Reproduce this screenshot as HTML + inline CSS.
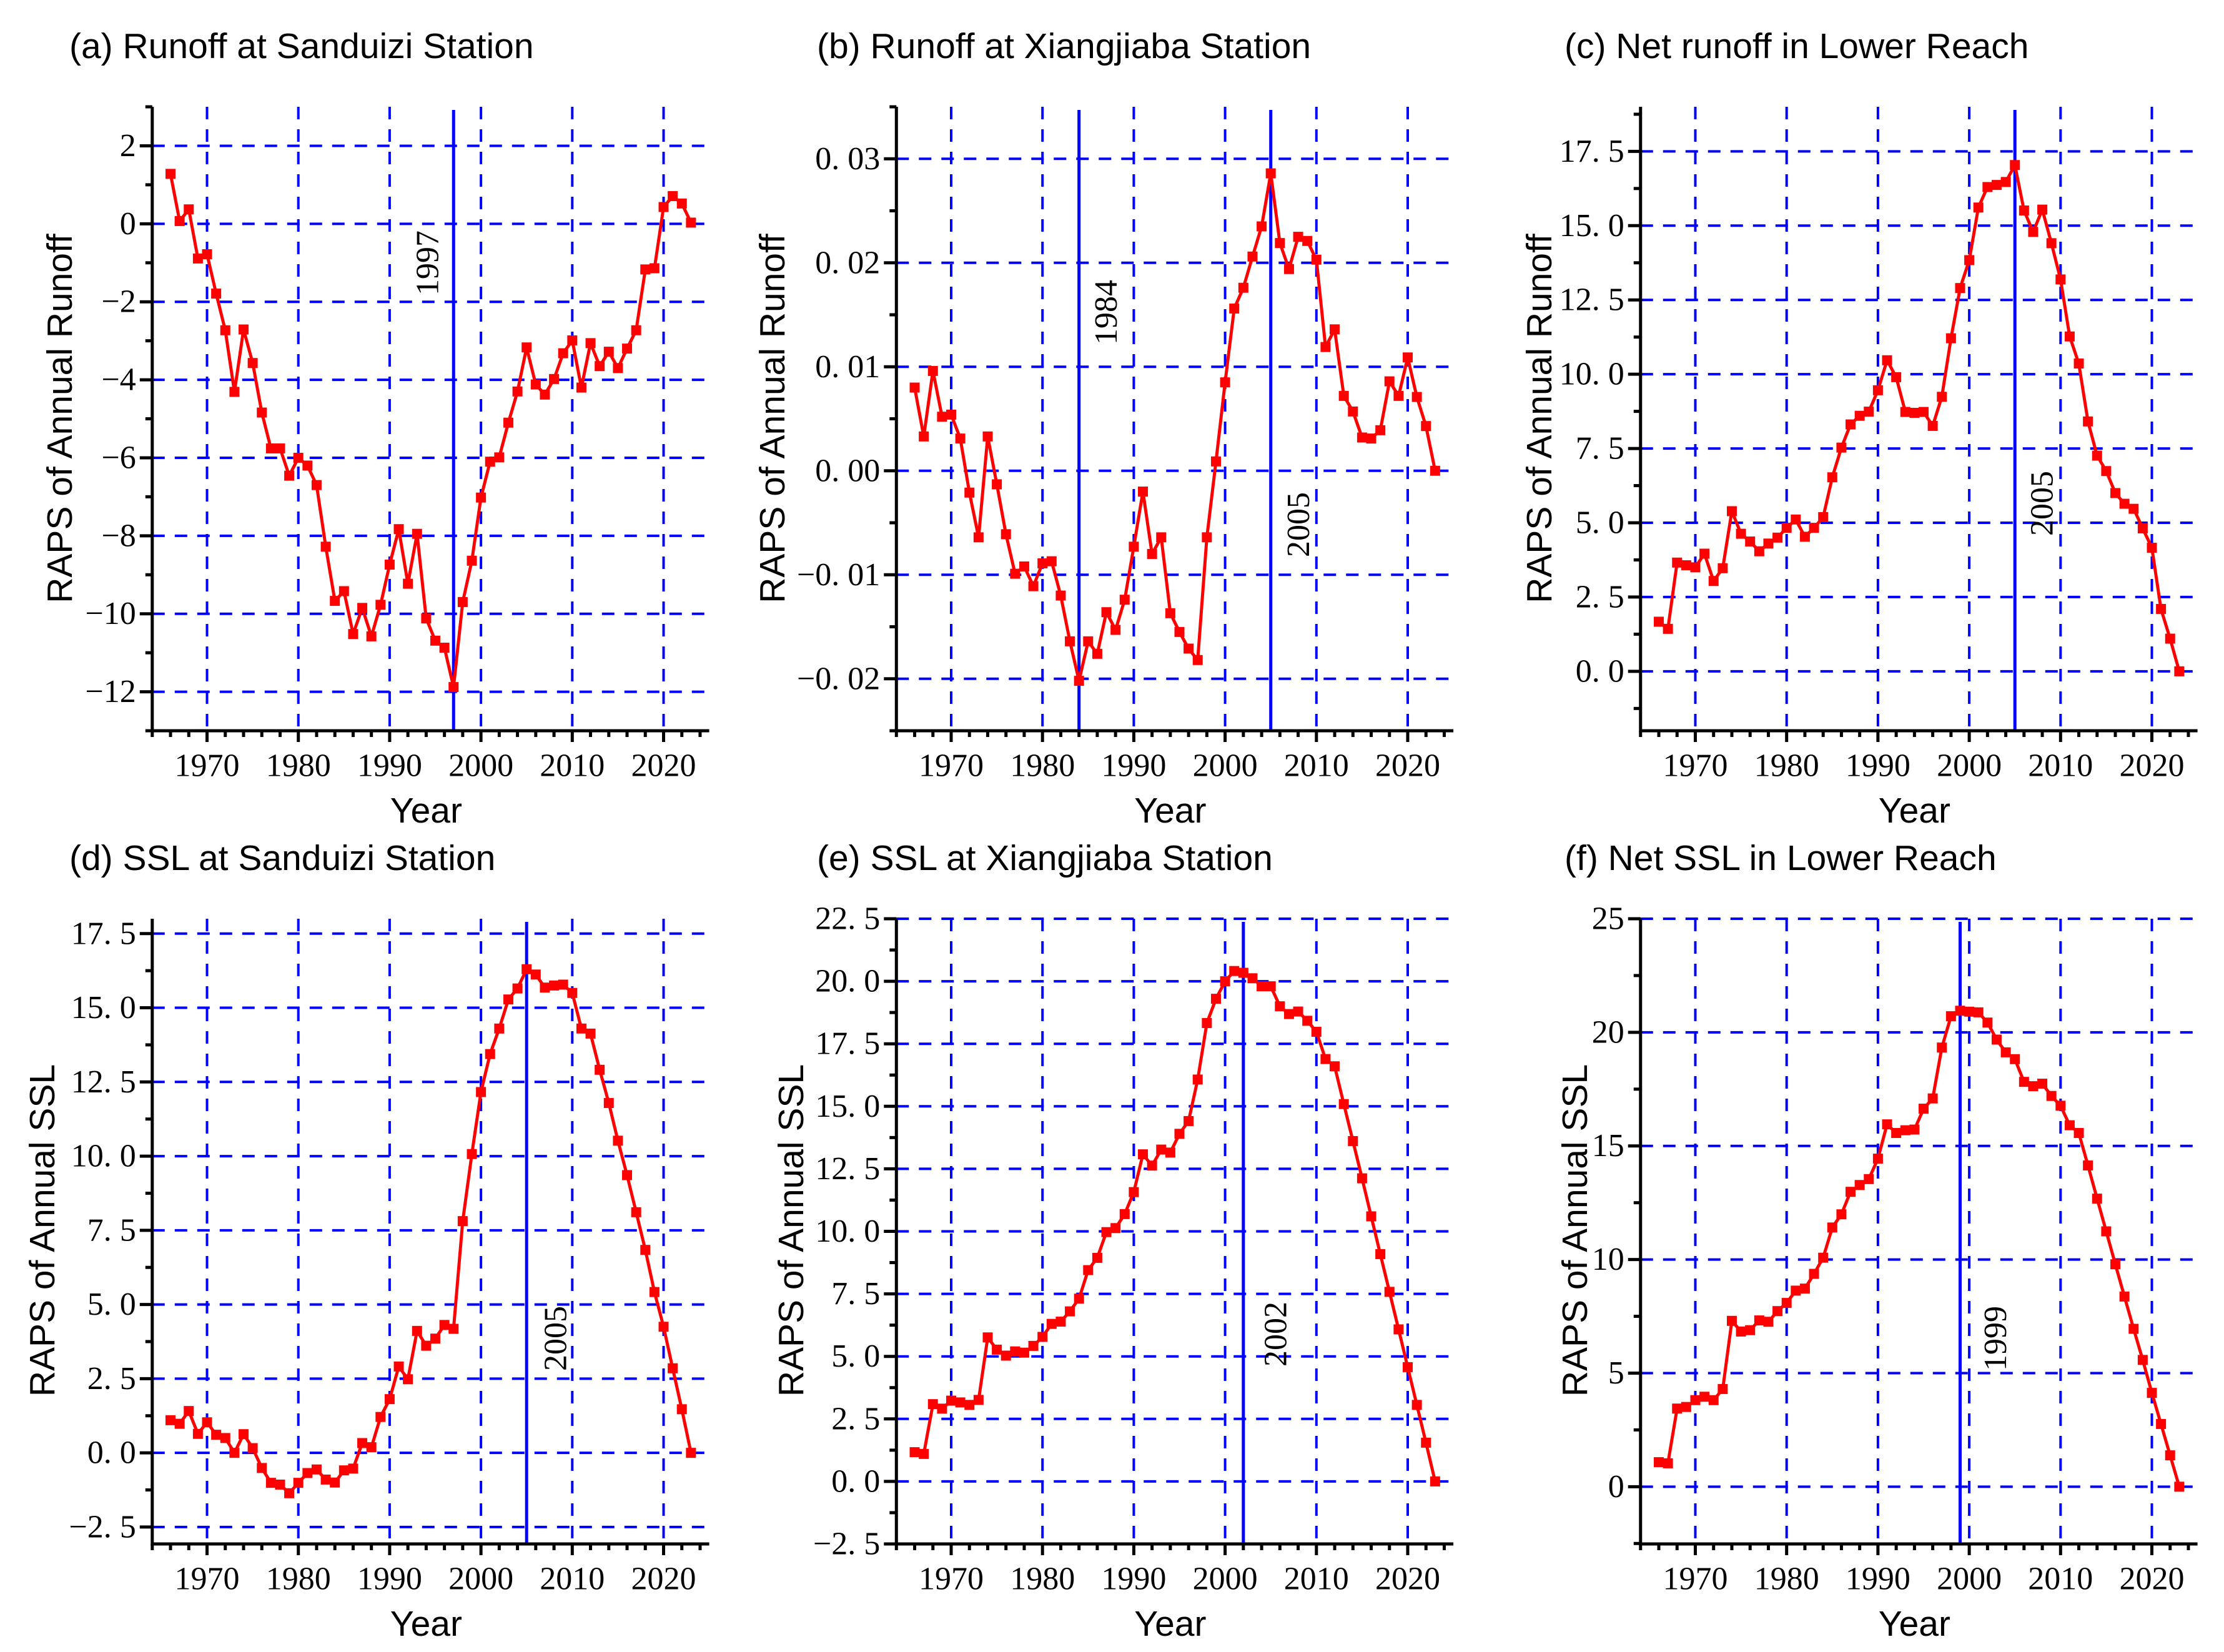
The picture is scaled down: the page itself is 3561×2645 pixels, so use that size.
<!DOCTYPE html>
<html><head><meta charset="utf-8">
<style>
html,body{margin:0;padding:0;background:#fff;}
svg{display:block;}
.title,.axlab{font-family:"Liberation Sans",Arial,sans-serif;font-size:57px;fill:#000;}
.tick{font-family:"Liberation Serif","Times New Roman",serif;font-size:52px;fill:#000;}
.brk{font-family:"Liberation Serif","Times New Roman",serif;font-size:52px;fill:#000;}
</style></head>
<body>
<svg id="chart" width="3561" height="2645" viewBox="0 0 3561 2645" xmlns="http://www.w3.org/2000/svg">
<rect x="0" y="0" width="3561" height="2645" fill="#fff"/>
</svg>
<script>
const years = [1966,1967,1968,1969,1970,1971,1972,1973,1974,1975,1976,1977,1978,1979,1980,1981,1982,1983,1984,1985,1986,1987,1988,1989,1990,1991,1992,1993,1994,1995,1996,1997,1998,1999,2000,2001,2002,2003,2004,2005,2006,2007,2008,2009,2010,2011,2012,2013,2014,2015,2016,2017,2018,2019,2020,2021,2022,2023];
const xTickYears = [1970,1980,1990,2000,2010,2020];
const runoffSanduizi = [1.28,0.07,0.37,-0.89,-0.78,-1.79,-2.73,-4.31,-2.71,-3.57,-4.84,-5.76,-5.76,-6.46,-6.0,-6.2,-6.70,-8.28,-9.67,-9.42,-10.52,-9.85,-10.58,-9.77,-8.74,-7.83,-9.23,-7.95,-10.12,-10.69,-10.87,-11.88,-9.70,-8.64,-7.02,-6.10,-5.99,-5.10,-4.30,-3.17,-4.12,-4.38,-3.98,-3.32,-2.99,-4.20,-3.06,-3.65,-3.28,-3.70,-3.20,-2.73,-1.17,-1.14,0.43,0.71,0.52,0.03];
const runoffXiangjiaba = [0.0080,0.0033,0.0096,0.0052,0.0054,0.0031,-0.0021,-0.0064,0.0033,-0.0013,-0.0061,-0.0099,-0.0092,-0.0111,-0.0089,-0.0087,-0.0120,-0.0164,-0.0202,-0.0164,-0.0176,-0.0136,-0.0153,-0.0124,-0.0073,-0.0020,-0.0080,-0.0064,-0.0137,-0.0155,-0.0171,-0.0182,-0.0064,0.0009,0.0085,0.0156,0.0176,0.0206,0.0235,0.0286,0.0219,0.0194,0.0225,0.0221,0.0203,0.0119,0.0136,0.0072,0.0057,0.0032,0.0031,0.0039,0.0086,0.0072,0.0109,0.0071,0.0043,0.0];
const runoffNet = [1.67,1.43,3.66,3.57,3.50,3.96,3.04,3.47,5.39,4.63,4.37,4.04,4.30,4.50,4.83,5.11,4.53,4.83,5.19,6.53,7.53,8.31,8.60,8.74,9.46,10.47,9.90,8.73,8.70,8.73,8.26,9.24,11.21,12.90,13.84,15.61,16.30,16.37,16.47,17.04,15.51,14.79,15.54,14.41,13.19,11.27,10.36,8.41,7.26,6.74,6.0,5.64,5.47,4.81,4.16,2.10,1.10,0];
const sslSanduizi = [1.10,0.98,1.41,0.64,1.03,0.61,0.50,0.0,0.63,0.16,-0.51,-1.01,-1.07,-1.36,-1.01,-0.68,-0.56,-0.90,-1.0,-0.59,-0.53,0.33,0.19,1.21,1.81,2.91,2.48,4.11,3.61,3.85,4.31,4.18,7.81,10.07,12.16,13.44,14.30,15.28,15.65,16.30,16.12,15.68,15.75,15.78,15.50,14.30,14.13,12.91,11.79,10.52,9.36,8.11,6.84,5.42,4.25,2.85,1.47,0];
const sslXiangjiaba = [1.17,1.10,3.09,2.91,3.23,3.16,3.06,3.26,5.76,5.27,5.03,5.20,5.15,5.42,5.78,6.30,6.39,6.80,7.31,8.45,8.94,9.97,10.13,10.69,11.57,13.08,12.63,13.27,13.15,13.90,14.41,16.07,18.33,19.30,20.0,20.41,20.34,20.12,19.80,19.80,19.00,18.69,18.79,18.42,17.98,16.89,16.60,15.09,13.61,12.12,10.60,9.09,7.58,6.08,4.57,3.06,1.55,0];
const sslNet = [1.08,1.03,3.44,3.51,3.81,3.96,3.81,4.30,7.30,6.83,6.89,7.32,7.26,7.73,8.09,8.63,8.72,9.37,10.08,11.41,11.99,12.98,13.28,13.54,14.44,15.95,15.57,15.69,15.72,16.64,17.09,19.33,20.71,20.95,20.91,20.88,20.43,19.68,19.12,18.82,17.82,17.63,17.74,17.20,16.77,15.91,15.57,14.14,12.68,11.24,9.79,8.37,6.95,5.58,4.13,2.76,1.38,0];
const breakYears = [[1997],[1984,2005],[2005],[2005],[2002],[1999]];
const titles = ["(a) Runoff at Sanduizi Station","(b) Runoff at Xiangjiaba Station","(c) Net runoff in Lower Reach","(d) SSL at Sanduizi Station","(e) SSL at Xiangjiaba Station","(f) Net SSL in Lower Reach"];
const yTitles = ["RAPS of Annual Runoff","RAPS of Annual Runoff","RAPS of Annual Runoff","RAPS of Annual SSL","RAPS of Annual SSL","RAPS of Annual SSL"];
const yTicksA = [2,0,-2,-4,-6,-8,-10,-12];
const yTicksB = [0.03,0.02,0.01,0.00,-0.01,-0.02];
const yTicksC = [17.5,15,12.5,10,7.5,5,2.5,0];
const yTicksD = [17.5,15,12.5,10,7.5,5,2.5,0,-2.5];
const yTicksE = [22.5,20,17.5,15,12.5,10,7.5,5,2.5,0,-2.5];
const yTicksF = [25,20,15,10,5,0];

const NS = "http://www.w3.org/2000/svg";
const svg = document.getElementById('chart');
function mk(tag, attrs, parent){
  const e = document.createElementNS(NS, tag);
  for (const k in attrs) e.setAttribute(k, attrs[k]);
  (parent||svg).appendChild(e);
  return e;
}
function fmt(v, dec){
  let s = Math.abs(v).toFixed(dec);
  if (dec>0) s = s.replace('.', '. ');
  return (v < -1e-9 ? '\u2212' : '') + s;
}
const panels = [
  {key:'a', data:runoffSanduizi, ticks:yTicksA, ymin:-13, ymax:3, minor:1, dec:0, ylx:96, brkOff:[-41], brkY:[421]},
  {key:'b', data:runoffXiangjiaba, ticks:yTicksB, ymin:-0.025, ymax:0.035, minor:0.005, dec:2, ylx:1237, brkOff:[44,45], brkY:[500,840]},
  {key:'c', data:runoffNet, ticks:yTicksC, ymin:-2, ymax:19, minor:1.25, dec:1, ylx:2465, brkOff:[44], brkY:[806]},
  {key:'d', data:sslSanduizi, ticks:yTicksD, ymin:-3.07, ymax:18, minor:1.25, dec:1, ylx:68, brkOff:[47], brkY:[2143]},
  {key:'e', data:sslXiangjiaba, ticks:yTicksE, ymin:-2.5, ymax:22.5, minor:1.25, dec:1, ylx:1267, brkOff:[52], brkY:[2136]},
  {key:'f', data:sslNet, ticks:yTicksF, ymin:-2.52, ymax:25, minor:2.5, dec:0, ylx:2522, brkOff:[57], brkY:[2143]}
];
panels.forEach((p, i) => {
  const col = i % 3, row = Math.floor(i / 3);
  const top = row ? 1471 : 171, bot = row ? 2472 : 1170;
  const x1970 = 331.5 + col * 1191.5, pxYr = 14.62;
  const X = yr => x1970 + (yr - 1970) * pxYr;
  const Y = v => bot - (v - p.ymin) / (p.ymax - p.ymin) * (bot - top);
  const axX = X(1964), right = X(2025);
  const g = mk('g', {});
  
  
  // title
  const t = mk('text', {x: 111 + col * 1197, y: row ? 1393 : 93, class: 'title'}, g);
  t.textContent = titles[i];
  
  
  // grid
  const grid = mk('g', {stroke: '#0000ff', 'stroke-width': 4, 'stroke-dasharray': '20 16', fill: 'none'}, g);
  
  
  p.ticks.forEach(v => { mk('line', {x1: axX, x2: right, y1: Y(v), y2: Y(v)}, grid); });
  xTickYears.forEach(yr => { mk('line', {x1: X(yr), x2: X(yr), y1: top, y2: bot}, grid); });
  // break lines
  breakYears[i].forEach((by, k) => {
    const bl = mk('line', {x1: X(by), x2: X(by), y1: top + 5, y2: bot, stroke: '#0000ff', 'stroke-width': 5}, g);
    
    
    const lx = X(by) + p.brkOff[k], ly = p.brkY[k];
    const bt = mk('text', {x: lx, y: ly, class: 'brk', 'text-anchor': 'middle', 'dominant-baseline': 'central', transform: 'rotate(-90 ' + lx + ' ' + ly + ')'}, g);
    bt.textContent = String(by);
    
    
  });
  // axes
  const ax = mk('path', {d: 'M' + axX + ' ' + top + ' V' + bot + ' H' + right, stroke: '#000', 'stroke-width': 5, fill: 'none'}, g);
  
  
  // y minor ticks
  const start = Math.ceil(p.ymin / p.minor - 1e-6);
  for (let k = start; k * p.minor <= p.ymax + 1e-9; k++) {
    const v = k * p.minor;
    const isMajor = p.ticks.some(tv => Math.abs(tv - v) < 1e-9);
    mk('line', {x1: axX - (isMajor ? 20 : 11), x2: axX, y1: Y(v), y2: Y(v), stroke: '#000', 'stroke-width': 5}, g);
  }
  p.ticks.forEach(v => {
    const tl = mk('text', {x: axX - 26, y: Y(v), class: 'tick', 'text-anchor': 'end', 'dominant-baseline': 'central'}, g);
    tl.textContent = fmt(v, p.dec);
    
    
  });
  // x ticks
  for (let yr = 1964; yr <= 2024; yr += 2) {
    const major = yr % 10 === 0;
    mk('line', {x1: X(yr), x2: X(yr), y1: bot, y2: bot + (major ? 18 : 10), stroke: '#000', 'stroke-width': 5}, g);
  }
  xTickYears.forEach(yr => {
    const xl = mk('text', {x: X(yr), y: bot + 56, class: 'tick', 'text-anchor': 'middle', 'dominant-baseline': 'central'}, g);
    xl.textContent = String(yr);
    
    
  });
  // axis titles
  const xt = mk('text', {x: X(1994) , y: bot + 128, class: 'axlab', 'text-anchor': 'middle', 'dominant-baseline': 'central'}, g);
  xt.textContent = 'Year';
  
  
  const yc = row ? 1970 : 670;
  const yt = mk('text', {x: p.ylx, y: yc, class: 'axlab', 'text-anchor': 'middle', 'dominant-baseline': 'central', transform: 'rotate(-90 ' + p.ylx + ' ' + yc + ')'}, g);
  yt.textContent = yTitles[i];
  
  
  // series
  const pts = p.data.map((v, k) => X(years[k]).toFixed(1) + ',' + Y(v).toFixed(1)).join(' ');
  const ln = mk('polyline', {points: pts, fill: 'none', stroke: '#ff0000', 'stroke-width': 5, 'stroke-linejoin': 'round'}, g);
  
  
  p.data.forEach((v, k) => {
    const m = mk('rect', {x: X(years[k]) - 8, y: Y(v) - 8, width: 16, height: 16, fill: '#ff0000'}, g);
    
    
  });
});
</script>
</body></html>
